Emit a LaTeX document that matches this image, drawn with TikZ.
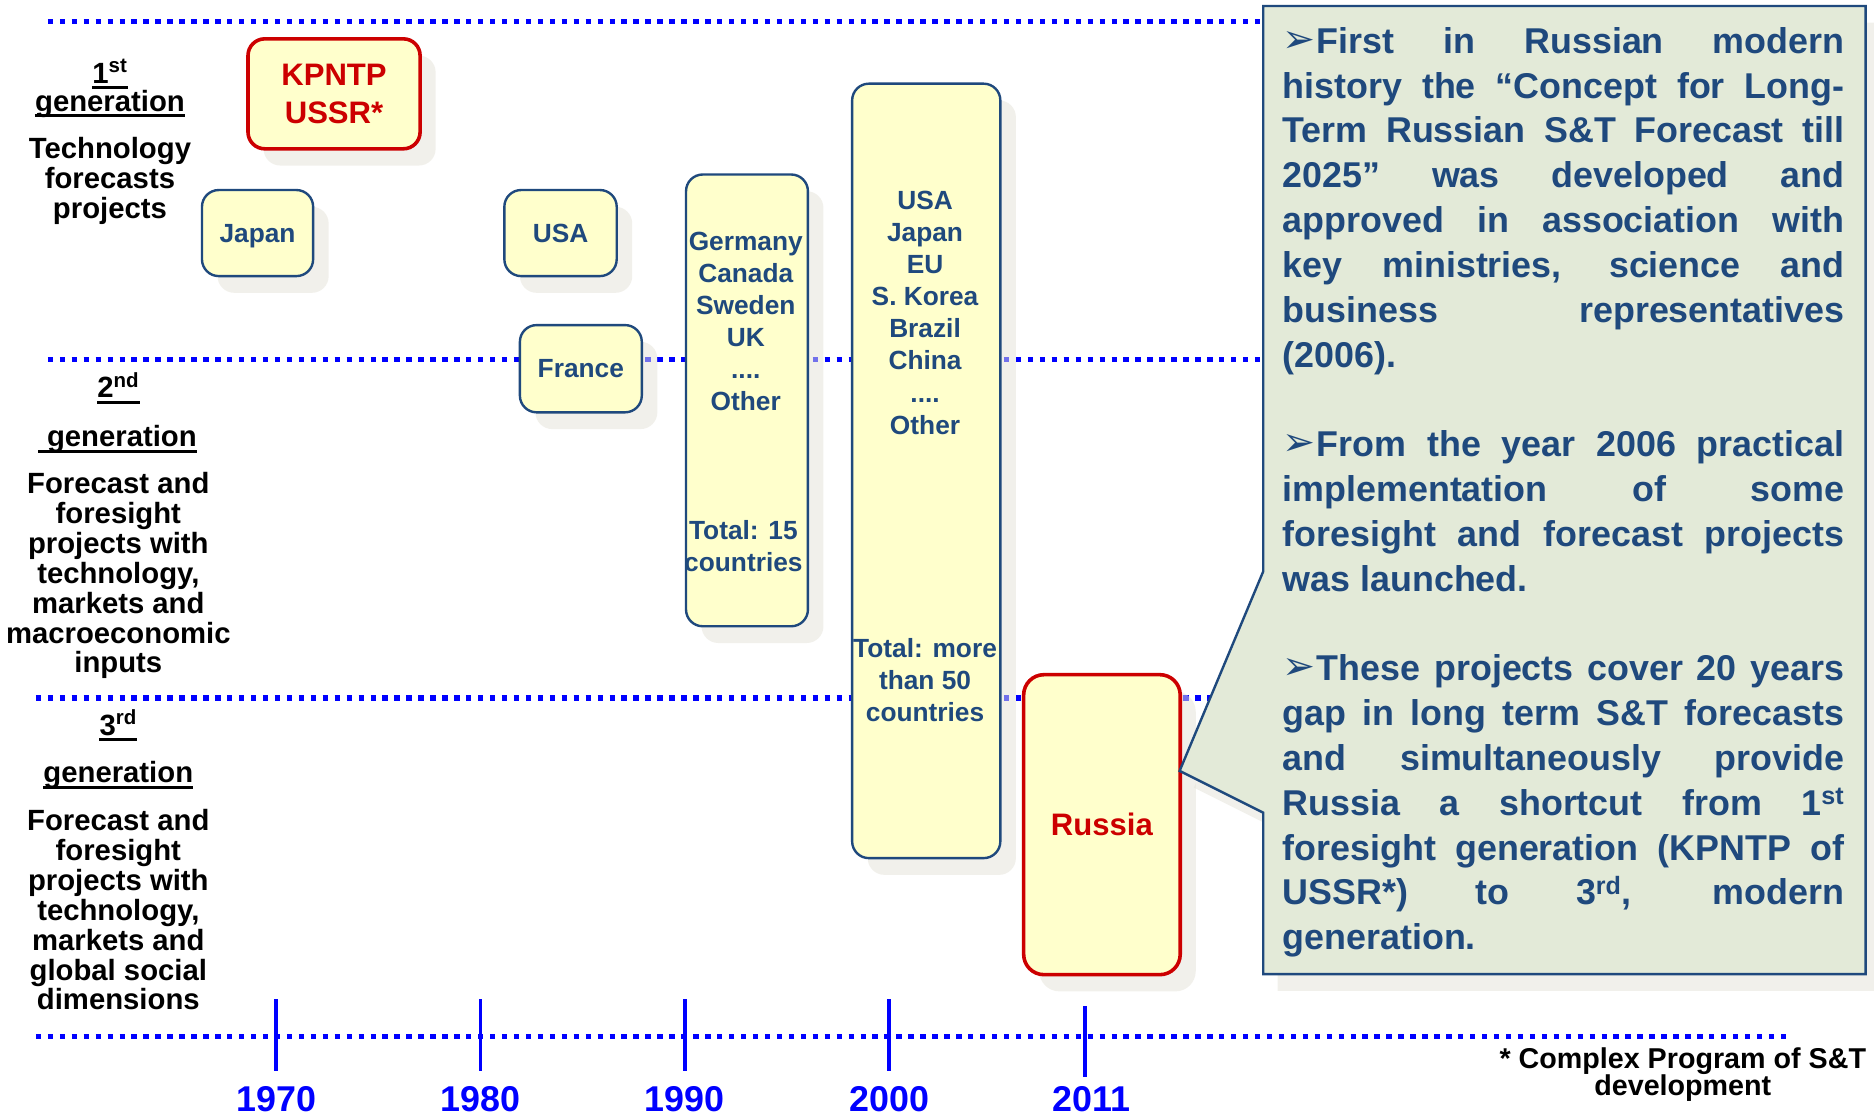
\documentclass[tikz,border=0pt]{standalone}
\usepackage{fontspec}
\setmainfont{Liberation Sans}
\newfontfamily\dvfont{DejaVu Sans}
\usetikzlibrary{shadows}
\definecolor{dotblue}{RGB}{0,0,255}
\definecolor{navy}{RGB}{31,73,125}
\definecolor{boxyel}{RGB}{255,255,204}
\definecolor{redc}{RGB}{204,0,0}
\definecolor{callfill}{RGB}{227,234,216}
\definecolor{shadowc}{RGB}{229,227,216}
\newlength\cw \setlength\cw{470pt}
\newcommand\jline[1]{\hbox to\cw{\spaceskip=.28em plus 1fil\relax #1}}
\newcommand\lline[1]{\hbox to\cw{#1\hfil}}
\newcommand\stack[2]{\vtop{\baselineskip=#1\relax\lineskiplimit=-100pt\lineskip=0pt\halign{\hfil##\hfil\cr#2\crcr}}}
\newcommand\arr{{\dvfont\bfseries\fontsize{33}{33}\selectfont\raisebox{1pt}{➢}}\kern1pt}
\begin{document}
\begin{tikzpicture}[x=1pt,y=-1pt,
  dotline/.style={draw=dotblue, line width=4.5pt, dash pattern=on 4.5pt off 5.5pt},
  tick/.style={draw=dotblue, line width=3pt},
  shade box/.style={drop shadow={shadow xshift=13pt, shadow yshift=-14pt, fill=shadowc, opacity=.5}},
  box/.style={rounded corners=14pt, draw=navy, line width=2pt, fill=boxyel, inner sep=0pt,
    text=navy, font=\bfseries\fontsize{22}{27}\selectfont, align=center, shade box},
  redbox/.style={box, draw=redc, line width=3pt, text=redc, font=\bfseries\fontsize{26}{32}\selectfont},
  boxtext/.style={inner sep=0pt, text=navy, font=\bfseries\fontsize{22}{27}\selectfont, anchor=base},
  lab/.style={inner sep=0pt, text=black, font=\bfseries\fontsize{24.5}{25}\selectfont, anchor=base},
  uline/.style={draw=black, line width=2.6pt},
  yr/.style={inner sep=0pt, text depth=0pt, text=dotblue, font=\bfseries\fontsize{30}{30}\selectfont, anchor=base}]
\useasboundingbox (0,0) rectangle (1568,935);
\fill[white] (0,0) rectangle (1568,935);

% dotted generation lines
\draw[dotline] (40,18) -- (1057,18);
\draw[dotline] (40,301) -- (1057,301);
\draw[dotline] (30,584) -- (1057,584);
\draw[dotline] (30,867) -- (1500,867);

% ticks and years
\draw[tick] (231,836) -- (231,896);
\draw[tick] (402,836) -- (402,896);
\draw[tick] (573,836) -- (573,896);
\draw[tick] (744,836) -- (744,896);
\draw[tick] (908,842) -- (908,901);
\node[yr] (y1970) at (231,930) {1970};
\node[yr] (y1980) at (402,930) {1980};
\node[yr] (y1990) at (573,930) {1990};
\node[yr] (y2000) at (744,930) {2000};
\node[yr] (y2011) at (913,930) {2011};

% left labels
\node[lab] (g1num) at (92,70) {1\textsuperscript{st}};
\draw[uline] ([yshift=-3.5pt]g1num.base west) -- ([yshift=-3.5pt]g1num.base east);
\node[lab] (g1gen) at (92,93) {generation};
\draw[uline] ([yshift=-4pt]g1gen.base west) -- ([yshift=-4pt]g1gen.base east);
\node[lab] (g1txt) at (92,133) {\stack{25pt}{Technology\cr forecasts\cr projects}};

\node[lab] (g2num) at (99,333) {2\textsuperscript{nd}};
\draw[uline] ([yshift=-3.5pt]g2num.base west) -- ([yshift=-3.5pt]g2num.base east);
\node[lab] (g2gen) at (102,374) {generation};
\draw[uline] ([xshift=-7pt,yshift=-4pt]g2gen.base west) -- ([yshift=-4pt]g2gen.base east);
\node[lab] (g2txt) at (99,413) {\stack{25pt}{Forecast and\cr foresight\cr projects with\cr technology,\cr markets and\cr macroeconomic\cr inputs}};

\node[lab] (g3num) at (99,615) {3\textsuperscript{rd}};
\draw[uline] ([yshift=-3.5pt]g3num.base west) -- ([yshift=-3.5pt]g3num.base east);
\node[lab] (g3gen) at (99,655) {generation};
\draw[uline] ([yshift=-4pt]g3gen.base west) -- ([yshift=-4pt]g3gen.base east);
\node[lab] (g3txt) at (99,695) {\stack{25pt}{Forecast and\cr foresight\cr projects with\cr technology,\cr markets and\cr global social\cr dimensions}};

% boxes
\node[redbox, minimum width=144pt, minimum height=92pt] (kpntp) at (279.5,78.5) {KPNTP\\USSR*};
\node[box, minimum width=93pt, minimum height=72pt, text depth=0pt] (japan) at (215.5,195) {Japan};
\node[box, minimum width=94pt, minimum height=72pt] (usa) at (469,195) {USA};
\node[box, minimum width=102pt, minimum height=73pt] (france) at (486,308.5) {France};
\node[box, minimum width=102pt, minimum height=378pt] (germany) at (625,335) {};
\node[boxtext] (germanylist) at (624,209.5) {\stack{26.8pt}{Germany\cr Canada\cr Sweden\cr UK\cr ....\cr Other}};
\node[boxtext] (germanytotal) at (622,451) {\stack{27pt}{Total: 15\cr countries}};
\node[box, minimum width=124pt, minimum height=648pt] (world) at (775,394) {};
\node[boxtext] (worldlist) at (774,175) {\stack{26.9pt}{USA\cr Japan\cr EU\cr S. Korea\cr Brazil\cr China\cr ....\cr Other}};
\node[boxtext] (worldtotal) at (774,550) {\stack{26.8pt}{Total: more\cr than 50\cr countries}};
\node[redbox, rounded corners=17pt, minimum width=131pt, minimum height=251pt] (russia) at (922,690) {Russia};

% callout
\coordinate (tip) at (987,645);
\fill[shadowc, opacity=.5, shift={(12,14)}] (1057,5) -- (1561,5) -- (1561,815) -- (1057,815) -- (1057,680) -- (987,645) -- (1057,478) -- cycle;
\draw[fill=callfill, draw=navy, line width=2pt] (1057,5) -- (1561,5) -- (1561,815) -- (1057,815) -- (1057,680) -- (tip) -- (1057,478) -- cycle;
\node[inner sep=0pt, anchor=base west, text=navy, font=\bfseries\fontsize{30}{37.5}\selectfont] (calltext) at (1073,44.6) {\vtop{\baselineskip=37.5pt\lineskiplimit=-100pt
\jline{\arr First in Russian modern}
\jline{history the “Concept for Long-}
\jline{Term Russian S\&T Forecast till}
\jline{2025” was developed and}
\jline{approved in association with}
\jline{key ministries, science and}
\jline{business representatives}
\lline{(2006).}
\vskip37.5pt
\jline{\arr From the year 2006 practical}
\jline{implementation of some}
\jline{foresight and forecast projects}
\lline{was launched.}
\vskip37.5pt
\jline{\arr These projects cover 20 years}
\jline{gap in long term S\&T forecasts}
\jline{and simultaneously provide}
\jline{Russia a shortcut from 1\textsuperscript{st}}
\jline{foresight generation (KPNTP of}
\jline{USSR*) to 3\textsuperscript{rd}, modern}
\lline{generation.}}};

% footnote
\node[lab, font=\bfseries\fontsize{24}{23}\selectfont] (foot) at (1408,894) {\stack{23pt}{* Complex Program of S\&T\cr development}};
\end{tikzpicture}
\end{document}
